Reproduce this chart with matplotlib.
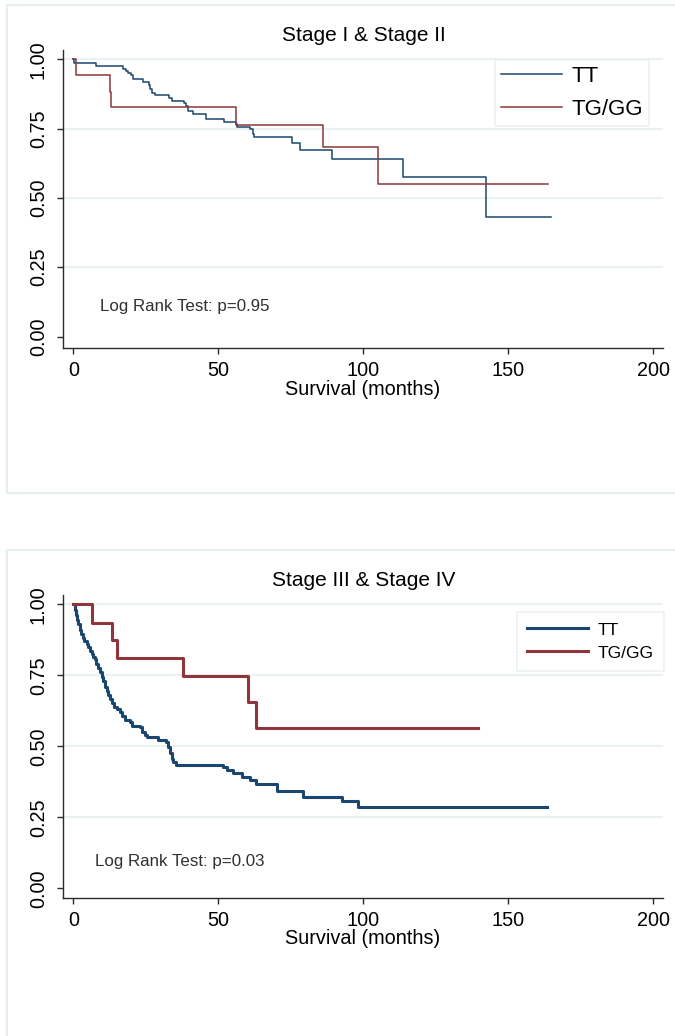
import numpy as np
import matplotlib
matplotlib.use("Agg")
import matplotlib.pyplot as plt
from matplotlib.patches import Rectangle

plt.rcParams['font.family'] = ['Liberation Sans', 'DejaVu Sans']

# ---- data (months, survival) ----
# Stage I & II
tt1_t = [0, 0.3, 8, 17.2, 18.2, 19, 20, 20.5, 24, 26, 26.4, 27, 28, 33, 34, 38, 39, 39.7,
         41.4, 45.7, 52, 56, 56.3, 61, 62, 62.2, 75.5, 78, 89.3, 113.8, 142.3, 164.6]
tt1_s = [1.0, 0.988, 0.977, 0.967, 0.960, 0.952, 0.943, 0.928, 0.919, 0.908, 0.892, 0.880,
         0.871, 0.860, 0.851, 0.844, 0.832, 0.814, 0.803, 0.786, 0.773, 0.767, 0.755, 0.748,
         0.731, 0.719, 0.700, 0.673, 0.641, 0.577, 0.433, 0.433]
tg1_t = [0, 0.9, 12.6, 13, 56, 86.2, 105.2, 163.8]
tg1_s = [1.0, 0.943, 0.884, 0.830, 0.764, 0.684, 0.551, 0.551]

# Stage III & IV
tt2_t = [0, 0.5, 0.9, 1.4, 1.7, 2.3, 2.8, 3.2, 3.7, 4.6, 5.2, 5.7, 6.3, 6.9, 7.6, 8.0, 8.6,
         9.2, 9.8, 10.3, 10.9, 11.5, 12.1, 12.6, 13.2, 14.0, 15.2, 16.1, 16.8, 17.9, 19.5,
         20.1, 23.0, 23.6, 24.7, 25.5, 29.1, 32.0, 32.8, 33.3, 34.0, 34.5, 35.4, 51.5, 52.9,
         55.2, 58.0, 60.9, 63.0, 70.3, 79.3, 92.5, 98.3, 163.4]
tt2_s = [1.0, 0.979, 0.961, 0.946, 0.932, 0.911, 0.897, 0.883, 0.870, 0.862, 0.850, 0.836,
         0.824, 0.815, 0.809, 0.791, 0.777, 0.762, 0.744, 0.729, 0.709, 0.694, 0.680, 0.668,
         0.653, 0.639, 0.633, 0.621, 0.606, 0.592, 0.586, 0.571, 0.569, 0.551, 0.539, 0.533,
         0.522, 0.516, 0.498, 0.475, 0.457, 0.445, 0.434, 0.426, 0.416, 0.407, 0.393, 0.381,
         0.367, 0.342, 0.320, 0.307, 0.285, 0.285]
tg2_t = [0, 6.6, 13.2, 15.2, 37.9, 60.1, 63, 139.4]
tg2_s = [1.0, 0.935, 0.873, 0.812, 0.749, 0.655, 0.563, 0.563]

xticks = [0, 50, 100, 150, 200]
yticks = [0, 0.25, 0.5, 0.75, 1.0]
ytick_labels = ['0.00', '0.25', '0.50', '0.75', '1.00']
series_names = ['TT', 'TG/GG']
titles = ['Stage I & Stage II', 'Stage III & Stage IV']
pvals = ['Log Rank Test: p=0.95', 'Log Rank Test: p=0.03']

NAVY = '#1a476f'
MAROON = '#90353b'
GRID = '#e6eff0'
AXC = '#2b2b2b'

W, H = 675, 1036
fig = plt.figure(figsize=(W / 100, H / 100), dpi=100)


def px_axes(l, t, r, b):
    return fig.add_axes([l / W, 1 - b / H, (r - l) / W, (b - t) / H])


def panel(top, bottom, ax_top, ax_bot, ylo, yhi, curves, lw, title, title_y, xlab_y,
          ptxt, pt_xy, leg_kw):
    # light frame around the panel
    fig.add_artist(Rectangle((7 / W, 1 - bottom / H), (W + 10) / W, (bottom - top) / H,
                             transform=fig.transFigure, fill=False, edgecolor=GRID,
                             linewidth=1.5))
    ax = px_axes(62.5, ax_top, 663, ax_bot)
    for y in yticks[1:]:
        ax.axhline(y, color=GRID, linewidth=1.2, zorder=0)
    lines = []
    for (t, s), c in zip(curves, [NAVY, MAROON]):
        ln, = ax.step(t, s, where='post', color=c, linewidth=lw)
        lines.append(ln)
    ax.set_xlim(-3.72, 203.3)
    ax.set_ylim(ylo, yhi)
    ax.set_xticks(xticks)
    ax.set_yticks(yticks)
    ax.set_yticklabels(ytick_labels, rotation=90, va='center')
    ax.tick_params(axis='both', labelsize=14.3, color=AXC, length=4.5, width=1)
    ax.tick_params(axis='x', pad=5)
    ax.tick_params(axis='y', pad=6)
    for sp in ['top', 'right']:
        ax.spines[sp].set_visible(False)
    for sp in ['left', 'bottom']:
        ax.spines[sp].set_color(AXC)
        ax.spines[sp].set_linewidth(1)
    ax.text(pt_xy[0], pt_xy[1], ptxt, fontsize=12.2, color='#303030', va='center')
    leg = ax.legend(lines, series_names, frameon=True, fancybox=False,
                    edgecolor=GRID, loc='upper left',
                    bbox_to_anchor=(leg_kw['x'] / W, 1 - leg_kw['y'] / H),
                    bbox_transform=fig.transFigure, fontsize=leg_kw['fs'],
                    handlelength=leg_kw['hl'], handletextpad=leg_kw['htp'],
                    labelspacing=leg_kw['ls'], borderpad=leg_kw['bp'], borderaxespad=0)
    leg.get_frame().set_linewidth(1.2)
    fig.text(363.5 / W, 1 - title_y / H, title, fontsize=15, ha='center', va='baseline')
    fig.text(363 / W, 1 - xlab_y / H, 'Survival (months)', fontsize=14.3, ha='center',
             va='center')
    return ax


panel(5, 493, 50, 348, -0.0415, 1.034, [(tt1_t, tt1_s), (tg1_t, tg1_s)], 1.1,
      titles[0], 40.7, 389, pvals[0], (9.2, 0.108),
      dict(x=495, y=60, fs=16, hl=2.75, htp=0.42, ls=0.55, bp=0.27))
panel(550, 1050, 595, 898, -0.034, 1.033, [(tt2_t, tt2_s), (tg2_t, tg2_s)], 2.2,
      titles[1], 586, 939, pvals[1], (7.5, 0.094),
      dict(x=517, y=612, fs=12.5, hl=3.5, htp=0.52, ls=0.45, bp=0.6))

fig.savefig('out.png', dpi=100, facecolor='white')
